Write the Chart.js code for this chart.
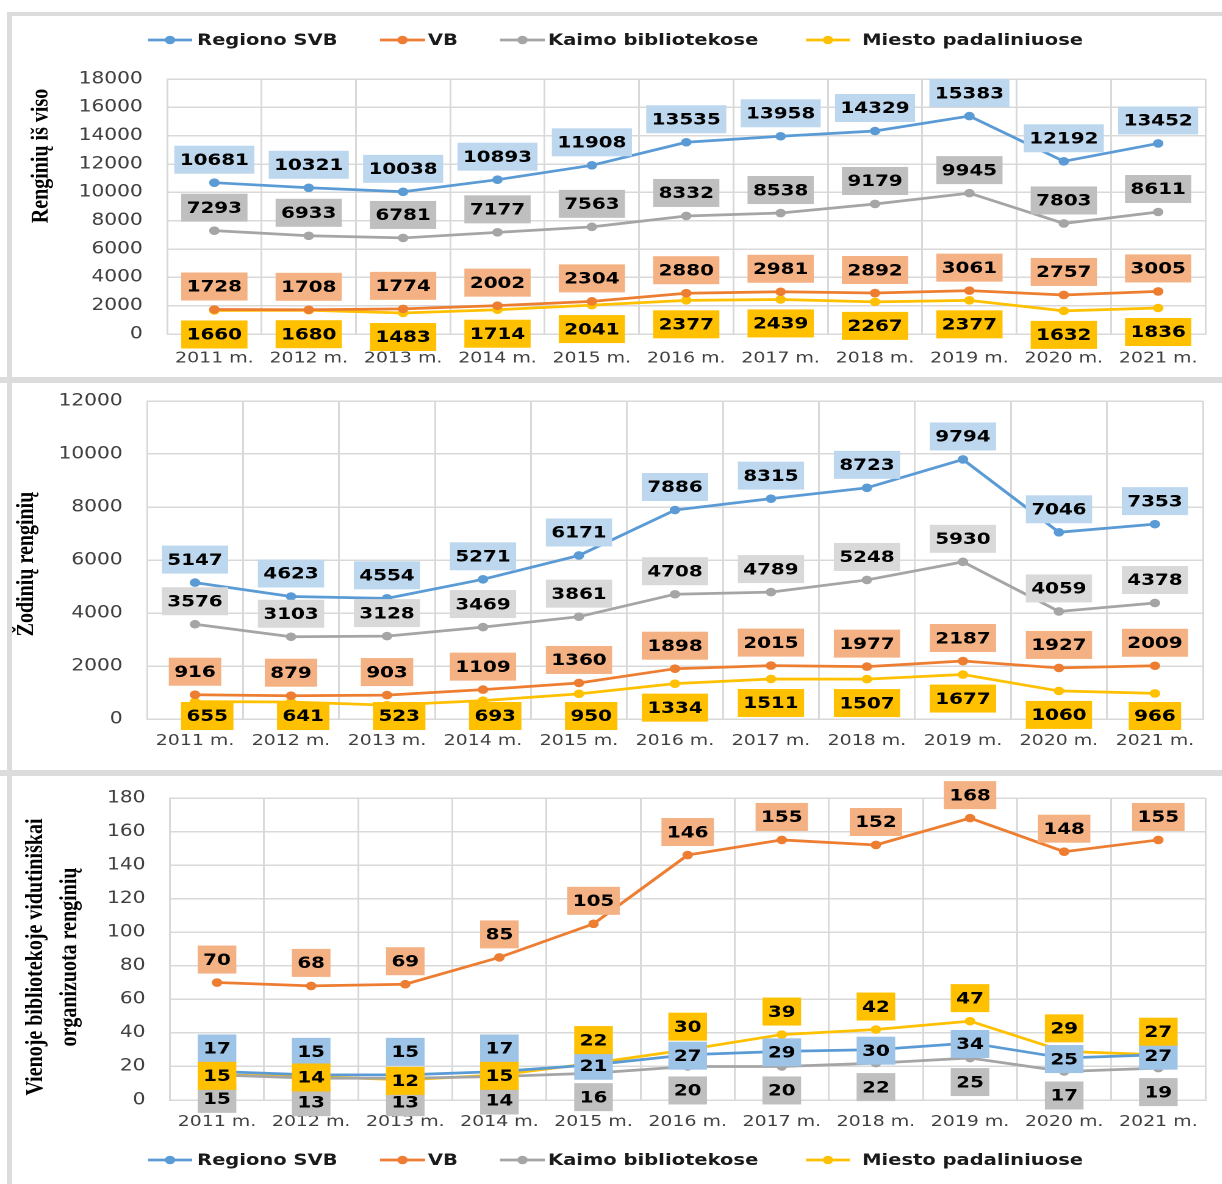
<!DOCTYPE html>
<html>
<head>
<meta charset="utf-8">
<script src="https://cdn.jsdelivr.net/npm/chart.js"></script>
<style>
  html, body { margin:0; padding:0; background:#fff; }
  body { width:1222px; height:1184px; position:relative; overflow:hidden; }
  .panel { position:absolute; left:0; width:1002px; transform:scaleX(1.22); transform-origin:0 0; }
  .frame { position:absolute; background:#dcdcdc; z-index:5; }
</style>
</head>
<body>
<div class="panel" style="top:16px;height:361px"><canvas id="c1"></canvas></div>
<div class="panel" style="top:383px;height:387px"><canvas id="c2"></canvas></div>
<div class="panel" style="top:776px;height:408px"><canvas id="c3"></canvas></div>
<div class="frame" style="left:8px;top:12px;width:1214px;height:4px"></div>
<div class="frame" style="left:7px;top:12px;width:5px;height:1172px"></div>
<div class="frame" style="left:0;top:377px;width:1222px;height:6px"></div>
<div class="frame" style="left:0;top:770px;width:1222px;height:6px"></div>
<script>
// ---------- data ----------
const years = ['2011 m.','2012 m.','2013 m.','2014 m.','2015 m.','2016 m.','2017 m.','2018 m.','2019 m.','2020 m.','2021 m.'];
const seriesNames = ['Regiono SVB','VB','Kaimo bibliotekose','Miesto padaliniuose'];

// Renginių iš viso
const regionoTotal = [10681,10321,10038,10893,11908,13535,13958,14329,15383,12192,13452];
const vbTotal      = [1728,1708,1774,2002,2304,2880,2981,2892,3061,2757,3005];
const kaimoTotal   = [7293,6933,6781,7177,7563,8332,8538,9179,9945,7803,8611];
const miestoTotal  = [1660,1680,1483,1714,2041,2377,2439,2267,2377,1632,1836];

// Žodinių renginių
const regionoVerbal = [5147,4623,4554,5271,6171,7886,8315,8723,9794,7046,7353];
const vbVerbal      = [916,879,903,1109,1360,1898,2015,1977,2187,1927,2009];
const kaimoVerbal   = [3576,3103,3128,3469,3861,4708,4789,5248,5930,4059,4378];
const miestoVerbal  = [655,641,523,693,950,1334,1511,1507,1677,1060,966];

// Vienoje bibliotekoje vidutiniškai organizuota renginių
const regionoAvg = [17,15,15,17,21,27,29,30,34,25,27];
const vbAvg      = [70,68,69,85,105,146,155,152,168,148,155];
const kaimoAvg   = [15,13,13,14,16,20,20,22,25,17,19];
const miestoAvg  = [15,14,12,15,22,30,39,42,47,29,27];

// ---------- styles ----------
const LINE = ['#5B9BD5','#ED7D31','#A5A5A5','#FFC000'];
const FONT = '"DejaVu Sans", Verdana, sans-serif';
const SERIF = '"Liberation Serif", "Times New Roman", serif';
const TICK_COLOR = '#404040';
const GRID = '#d9d9d9';

// ---------- plugins ----------
const boxLabels = {
  id: 'boxLabels',
  afterDatasetsDraw(chart, args, o) {
    const ctx = chart.ctx;
    ctx.save();
    ctx.font = 'bold ' + o.size + 'px ' + FONT;
    ctx.textAlign = 'center';
    ctx.textBaseline = 'middle';
    chart.data.datasets.forEach((ds, i) => {
      const meta = chart.getDatasetMeta(i);
      const place = o.placement[i];
      meta.data.forEach((pt, j) => {
        const c = place[j];
        const k = c.toLowerCase();
        const dy = k === 'a' ? o.above : (k === 'b' ? o.below : o.center);
        const dx = (c !== k) ? o.shift : 0;
        const x = pt.x + dx;
        const y = Math.min(pt.y + dy, chart.chartArea.bottom + o.clamp);
        const t = String(ds.data[j]);
        const w = ctx.measureText(t).width + 2 * o.padX;
        const h = o.boxH;
        ctx.fillStyle = ds.labelBg;
        ctx.fillRect(x - w / 2, y - h / 2, w, h);
        ctx.fillStyle = '#000';
        ctx.fillText(t, x, y + 1);
      });
    });
    ctx.restore();
  }
};

const lineLegend = {
  id: 'lineLegend',
  afterDraw(chart, args, o) {
    if (!o.show) return;
    const ctx = chart.ctx;
    ctx.save();
    ctx.font = 'bold ' + o.size + 'px ' + FONT;
    ctx.textAlign = 'left';
    ctx.textBaseline = 'middle';
    chart.data.datasets.forEach((ds, i) => {
      const it = o.items[i];
      ctx.strokeStyle = ds.borderColor;
      ctx.lineWidth = ds.borderWidth;
      ctx.beginPath(); ctx.moveTo(it[0], o.y); ctx.lineTo(it[1], o.y); ctx.stroke();
      ctx.fillStyle = ds.borderColor;
      ctx.beginPath(); ctx.arc((it[0] + it[1]) / 2, o.y, ds.pointRadius, 0, Math.PI * 2); ctx.fill();
      ctx.fillStyle = '#1a1a1a';
      ctx.fillText(ds.label, it[2], o.y + 1);
    });
    ctx.restore();
  }
};

const yTitle = {
  id: 'yTitle',
  afterDraw(chart, args, o) {
    const ctx = chart.ctx;
    ctx.save();
    ctx.font = 'bold ' + o.size + 'px ' + SERIF;
    ctx.fillStyle = '#000';
    ctx.textAlign = 'center';
    ctx.textBaseline = 'middle';
    o.lines.forEach((line, k) => {
      ctx.save();
      ctx.translate(o.x + k * o.gap, o.y);
      ctx.rotate(-Math.PI / 2);
      ctx.fillText(line, 0, 0);
      ctx.restore();
    });
    ctx.restore();
  }
};

const LEGEND_ITEMS = [[121.3,157.4,161.5],[311.5,348.4,350.8],[409.8,446.7,449.2],[660.7,696.7,706.6]];

function makeChart(id, cfg) {
  const canvas = document.getElementById(id);
  canvas.width = 1002; canvas.height = cfg.H;
  canvas.style.width = '1002px'; canvas.style.height = cfg.H + 'px';
  const sets = cfg.values.map((v, i) => ({
    label: seriesNames[i],
    data: v,
    borderColor: LINE[i],
    backgroundColor: LINE[i],
    borderWidth: 2.75,
    pointRadius: 4.3,
    pointHoverRadius: 4.3,
    pointBorderWidth: 0,
    tension: 0,
    labelBg: cfg.labelBg[i]
  }));
  return new Chart(canvas, {
    type: 'line',
    data: { labels: years, datasets: sets },
    plugins: [boxLabels, lineLegend, yTitle],
    options: {
      responsive: false,
      animation: false,
      devicePixelRatio: 2,
      layout: { autoPadding: false, padding: { left: 0, right: 1002 - cfg.area.right, top: cfg.area.top, bottom: 0 } },
      plugins: {
        legend: { display: false },
        tooltip: { enabled: false },
        boxLabels: { size: 16.3, padX: 4.5, boxH: 28, above: -23, below: 24, center: 1, shift: 10, clamp: cfg.clamp, placement: cfg.placement },
        lineLegend: { show: cfg.legendY != null, y: cfg.legendY, size: 16, items: LEGEND_ITEMS },
        yTitle: cfg.title
      },
      scales: {
        x: {
          offset: true,
          grid: { offset: true, color: GRID, lineWidth: 1.5, drawTicks: false },
          border: { color: GRID, width: 1.5 },
          ticks: { color: TICK_COLOR, font: { family: FONT, size: 15.5 }, padding: cfg.xPad, maxRotation: 0, autoSkip: false },
          afterFit(s) { s.height = cfg.H - cfg.area.bottom; }
        },
        y: {
          min: 0, max: cfg.max,
          ticks: { stepSize: cfg.step, color: TICK_COLOR, font: { family: FONT, size: 16.5 }, padding: 0,
                   callback: (v) => String(v) },
          grid: { color: GRID, lineWidth: 1.5, drawTicks: true, tickLength: 20, tickColor: 'rgba(0,0,0,0)' },
          border: { color: GRID, width: 1.5 },
          afterFit(s) { s.width = cfg.area.left; }
        }
      }
    }
  });
}

makeChart('c1', {
  H: 361,
  area: { left: 137, right: 988, top: 63, bottom: 318 },
  max: 18000, step: 2000, xPad: 15, clamp: 6,
  values: [regionoTotal, vbTotal, kaimoTotal, miestoTotal],
  labelBg: ['#BDD7EE', '#F4B183', '#BFBFBF', '#FFC000'],
  placement: ['aaaaaaaaaaa', 'aaaaaaaaaaa', 'aaaaaaaaaaa', 'bbbbbbbbbbb'],
  legendY: 24,
  title: { size: 20, x: 33.6, y: 140, gap: 0, lines: ['Renginių iš viso'] }
});

makeChart('c2', {
  H: 387,
  area: { left: 120.5, right: 986, top: 18, bottom: 336 },
  max: 12000, step: 2000, xPad: 12.7, clamp: -3,
  values: [regionoVerbal, vbVerbal, kaimoVerbal, miestoVerbal],
  labelBg: ['#BDD7EE', '#F4B183', '#D9D9D9', '#FFC000'],
  placement: ['aaaaaaaaaaa', 'aaaaaaaaaaa', 'aaaaaaaaaaa', 'BBBBBbbbbbb'],
  legendY: null,
  title: { size: 20, x: 22, y: 181, gap: 0, lines: ['Žodinių renginių'] }
});

makeChart('c3', {
  H: 408,
  area: { left: 139.3, right: 988, top: 22, bottom: 324 },
  max: 180, step: 20, xPad: 12.7, clamp: 6,
  values: [regionoAvg, vbAvg, kaimoAvg, miestoAvg],
  labelBg: ['#9DC3E6', '#F4B183', '#BFBFBF', '#FFC000'],
  placement: ['aaaaccccccc', 'aaaaaaaaaaa', 'bbbbbbbbbbb', 'ccccaaaaaaa'],
  legendY: 384,
  title: { size: 20, x: 29.5, y: 181, gap: 28, lines: ['Vienoje bibliotekoje vidutiniškai', 'organizuota renginių'] }
});
</script>
</body>
</html>
